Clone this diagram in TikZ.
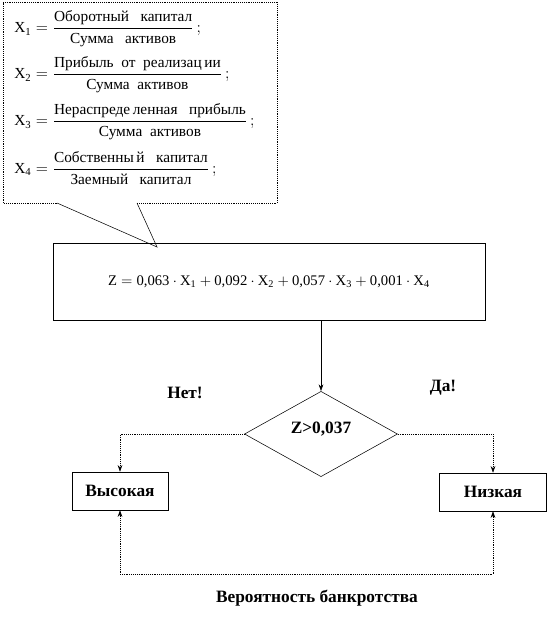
\documentclass[tikz,border=0pt]{standalone}
\usepackage{amsmath}
\usepackage{fontspec}
\setmainfont{Liberation Serif}
\usetikzlibrary{shapes.geometric,arrows.meta}
\begin{document}
\begin{tikzpicture}[x=0.75pt, y=-0.75pt, >={Stealth[length=5pt,width=3.5pt]},
    box/.style={draw, thin, inner sep=0pt, minimum height=28.5pt},
    dotline/.style={thin, densely dotted},
    lbl/.style={font=\fontsize{13}{15}\selectfont\bfseries},
    frm/.style={anchor=west, inner sep=0pt, font=\fontsize{11.5}{13}\selectfont}]
  \useasboundingbox (0,0) rectangle (549,623);
  \draw[thin, densely dotted] (3,2) -- (277,2) -- (277,203) -- (137,203);
  \draw[thin] (137,203) -- (157,247) -- (57,203);
  \draw[thin, densely dotted] (57,203) -- (3,203) -- (3,2);
  \node[frm] (x1) at (14,29) {$\text{X}_{\text{1}} = \dfrac{\text{Оборотный\ \ \ капитал}}{\text{Сумма\ \ \ активов}}\,;$};
  \node[frm] (x2) at (14,75) {$\text{X}_{\text{2}} = \dfrac{\text{Прибыль\ \ от\ \ реализац\,ии}}{\text{Сумма\ \ активов}}\,;$};
  \node[frm] (x3) at (14,122) {$\text{X}_{\text{3}} = \dfrac{\text{Нераспреде\,ленная\ \ \ прибыль}}{\text{Сумма\ \ активов}}\,;$};
  \node[frm] (x4) at (14,168) {$\text{X}_{\text{4}} = \dfrac{\text{Собственны\,й\ \ \ капитал}}{\text{Заемный\ \ \ капитал}}\,;$};
  \node[box, minimum width=324pt, minimum height=57.75pt, font=\fontsize{11}{13}\selectfont] (zbox) at (269,282)
    {$\text{Z} = \text{0,063}\cdot\text{X}_{\text{1}} + \text{0,092}\cdot\text{X}_{\text{2}} + \text{0,057}\cdot\text{X}_{\text{3}} + \text{0,001}\cdot\text{X}_{\text{4}}$};
  \node[draw, thin, diamond, inner sep=0pt, minimum width=114.75pt, minimum height=63.75pt, lbl, text depth=0pt] (cond) at (321,434) {\raisebox{10pt}{Z>0,037}};
  \node[box, minimum width=72pt, lbl] (high) at (120,491) {Высокая};
  \node[box, minimum width=80pt, lbl] (low) at (493,492) {Низкая};
  \node[lbl] (no) at (185,393) {Нет!};
  \node[lbl] (yes) at (443,388) {Да!};
  \node[lbl] (prob) at (317,598) {Вероятность банкротства};
  \draw[thin, ->] (zbox.south -| cond.north) -- (cond.north);
  \draw[dotline, ->] (cond.west) -| (high.north);
  \draw[dotline, ->] (cond.east) -| (low.north);
  \draw[dotline, <->] (high.south) -- ++(0,64) -| (low.south);
\end{tikzpicture}
\end{document}
